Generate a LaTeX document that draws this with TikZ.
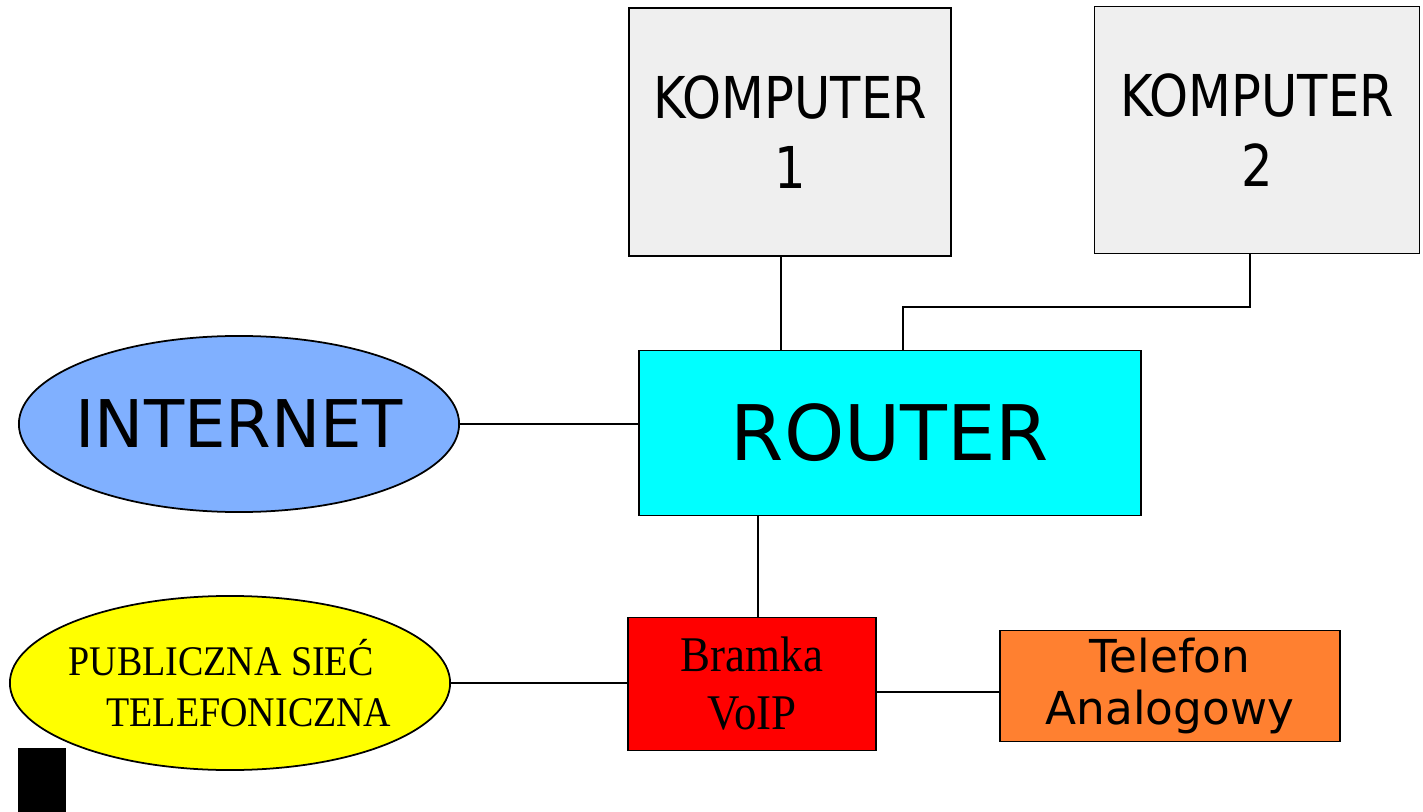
\documentclass[tikz,border=0pt]{standalone}
\usepackage{fontspec}
\setmainfont{Liberation Serif}
\setsansfont{DejaVu Sans}
\newfontfamily\condsans[FakeStretch=0.86]{DejaVu Sans}
\newfontfamily\condserif[FakeStretch=0.9]{Liberation Serif}
\usetikzlibrary{shapes.geometric, positioning}
\definecolor{boxgray}{HTML}{EFEFEF}
\definecolor{netblue}{HTML}{80B0FF}
\definecolor{routercyan}{HTML}{00FFFF}
\definecolor{pstnyellow}{HTML}{FFFF00}
\definecolor{voipred}{HTML}{FF0000}
\definecolor{telorange}{HTML}{FF8030}

\begin{document}
\begin{tikzpicture}[x=0.01cm, y=-0.01cm]
    \tikzstyle{every node}=[draw, line width=0.5pt, inner sep=0pt, align=center]
    \tikzset{device/.style={rectangle, fill=boxgray}, cloud/.style={ellipse, inner xsep=-0.4cm}}
    \useasboundingbox (0,0) rectangle (1423,812);

    \node[device, minimum width=3.22cm, minimum height=2.48cm, font=\condsans\fontsize{16.4}{19.7}\selectfont] (k1) at (790,132) {KOMPUTER\\1};
    \node[device, minimum width=3.25cm, minimum height=2.47cm, font=\condsans\fontsize{16.4}{19.7}\selectfont] (k2) at (1257,130) {KOMPUTER\\2};
    \node[rectangle, fill=routercyan, minimum width=5.02cm, minimum height=1.65cm, font=\sffamily\fontsize{21.8}{26}\selectfont] (router) at (890,433) {ROUTER};
    \node[cloud, fill=netblue, minimum width=4.4cm, minimum height=1.76cm, font=\sffamily\fontsize{18.7}{22}\selectfont] (inet) at (239,424) {INTERNET};
    \node[cloud, fill=pstnyellow, minimum width=4.4cm, minimum height=1.74cm, align=left, font=\condserif\fontsize{12}{14.6}\selectfont] (pstn) at (230,683) {PUBLICZNA SIEĆ\\\hspace{0.9em}TELEFONICZNA};
    \node[rectangle, fill=voipred, minimum width=2.48cm, minimum height=1.33cm, font=\condserif\fontsize{14.2}{16.5}\selectfont] (voip) at (752,684) {Bramka\\VoIP};
    \node[rectangle, fill=telorange, minimum width=3.4cm, minimum height=1.11cm, font=\sffamily\fontsize{12.9}{15}\selectfont] (tel) at (1170,686) {Telefon\\Analogowy};
    \fill (18,748) rectangle (66,812);

    \coordinate (r1) at (781,351);
    \coordinate (r2) at (903,351);
    \coordinate (k2b) at (1250,254);
    \coordinate (v1) at (758,618);
    \coordinate (t1) at (1000,692);
    \draw[line width=0.5pt] (k1.south -| r1) -- (r1);
    \draw[line width=0.5pt] (k2b) -- ++(0,53) -| (r2);
    \draw[line width=0.5pt] (inet.east) -- (router.west |- inet.east);
    \draw[line width=0.5pt] (router.south -| v1) -- (v1);
    \draw[line width=0.5pt] (pstn.east) -- (pstn.east -| voip.west);
    \draw[line width=0.5pt] (voip.east |- t1) -- (t1);
\end{tikzpicture}
\end{document}
